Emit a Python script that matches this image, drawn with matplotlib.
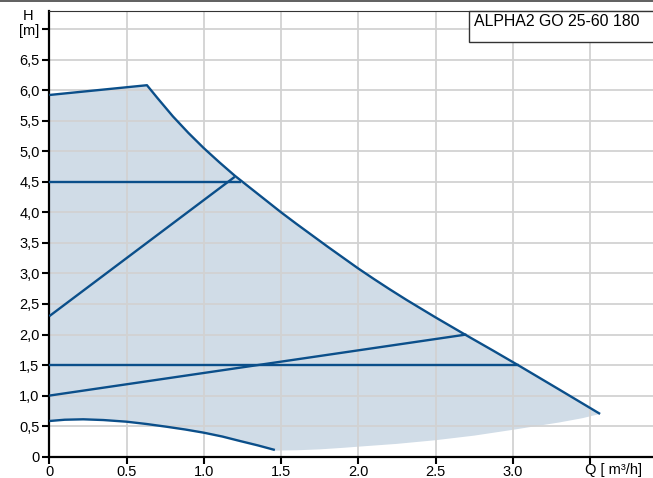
import matplotlib.pyplot as plt
from matplotlib.patches import Rectangle
from matplotlib.lines import Line2D

plt.rcParams["font.family"] = ["Liberation Sans", "DejaVu Sans"]

LINE = "#0B4F8A"
FILL = "#D0DCE7"
GRID = "#D2D2D2"

# ── Data ─────────────────────────────────────────────────────────────
# max curve (Q m³/h, H m)
max_q = [0, 0.632, 0.7, 0.8, 0.9, 1.0, 1.1, 1.2, 1.3, 1.4, 1.5, 1.6, 1.7,
         1.8, 1.9, 2.0, 2.1, 2.2, 2.313, 2.5, 2.69, 2.87, 3.04, 3.3, 3.565]
max_h = [5.92, 6.08, 5.87, 5.57, 5.30, 5.05, 4.82, 4.60, 4.40, 4.20, 4.00, 3.81,
         3.625, 3.44, 3.26, 3.08, 2.91, 2.745, 2.565, 2.28, 2.0, 1.74, 1.49,
         1.10, 0.70]

# min curve
min_q = [0, 0.1, 0.22, 0.35, 0.5, 0.63, 0.76, 0.88, 1.0, 1.12, 1.234, 1.35, 1.46]
min_h = [0.584, 0.605, 0.612, 0.600, 0.573, 0.535, 0.49, 0.445, 0.393, 0.33,
         0.257, 0.185, 0.11]

# lower edge of the operating area
low_q = [1.46, 1.6, 1.75, 1.9, 2.0, 2.25, 2.5, 2.75, 3.0, 3.15, 3.3, 3.45, 3.565]
low_h = [0.10, 0.105, 0.12, 0.145, 0.164, 0.21, 0.27, 0.345, 0.44, 0.50, 0.56,
         0.63, 0.70]

# constant pressure lines
cp_h = [4.5, 1.5]
cp_qend = [1.24, 3.04]

# proportional pressure lines
pp_q = [[0, 1.20], [0, 2.70]]
pp_h = [[2.30, 4.58], [1.0, 2.0]]

x_ticks = [0, 0.5, 1.0, 1.5, 2.0, 2.5, 3.0, 3.5]
x_labels = ["0", "0.5", "1.0", "1.5", "2.0", "2.5", "3.0", ""]
y_ticks = [0, 0.5, 1.0, 1.5, 2.0, 2.5, 3.0, 3.5, 4.0, 4.5, 5.0, 5.5, 6.0, 6.5, 7.0]
y_labels = ["0", "0,5", "1,0", "1,5", "2,0", "2,5", "3,0", "3,5", "4,0",
            "4,5", "5,0", "5,5", "6,0", "6,5", "[m]"]
title = "ALPHA2 GO 25-60 180"

W, H = 653, 478
fig = plt.figure(figsize=(W / 100, H / 100), dpi=100)
ax = fig.add_axes([49.3 / W, (H - 456.7) / H, (W - 49.3) / W, (456.7 - 11) / H])
ax.set_xlim(0, (W - 49.3) / 154.5)
ax.set_ylim(0, (456.7 - 11) / 61.1)

# ── operating area ───────────────────────────────────────────────────
poly_q = max_q + low_q[::-1] + min_q[::-1]
poly_h = max_h + low_h[::-1] + min_h[::-1]
ax.fill(poly_q, poly_h, color=FILL, lw=0, zorder=0.4)

# ── curves ───────────────────────────────────────────────────────────
kw = dict(color=LINE, lw=1.7, zorder=3, solid_capstyle="butt", solid_joinstyle="round")
ax.plot(max_q, max_h, **kw)
ax.plot(min_q, min_h, **kw)
for h, qe in zip(cp_h, cp_qend):
    ax.plot([0, qe], [h, h], **kw)
for q, h in zip(pp_q, pp_h):
    ax.plot(q, h, **kw)

# ── axes styling ─────────────────────────────────────────────────────
ax.set_axisbelow(True)
ax.grid(True, color=GRID, lw=1.3)
ax.set_xticks(x_ticks)
ax.set_xticklabels(x_labels)
ax.set_yticks(y_ticks)
ax.set_yticklabels(y_labels)
ax.tick_params(direction="out", length=5, width=1.5, pad=2, labelsize=10.5,
               colors="black")
ax.tick_params(axis="x", pad=1)
ax.spines["right"].set_visible(False)
ax.spines["left"].set_linewidth(1.6)
ax.spines["bottom"].set_linewidth(1.6)
ax.spines["top"].set_linewidth(0.8)
ax.spines["top"].set_color("#333333")

# axis titles
fig.text(28 / W, 1 - 16 / H, "H", ha="center", va="center", fontsize=10.5)
fig.text(585 / W, 1 - 470 / H, "Q [ m³/h]", ha="left", va="center", fontsize=10.5)

# figure top border
fig.add_artist(Line2D([0, 1], [1 - 0.6 / H, 1 - 0.6 / H], color="#444444", lw=1.2))

# title box
fig.add_artist(Rectangle((469 / W, 1 - 42 / H), (W - 469 + 5) / W, 31 / H,
                         facecolor="white", edgecolor="#333333", lw=1.0,
                         transform=fig.transFigure))
fig.text(474 / W, 1 - 21 / H, title, ha="left", va="center", fontsize=11.4)

fig.savefig("out.png", dpi=100, facecolor="white")
